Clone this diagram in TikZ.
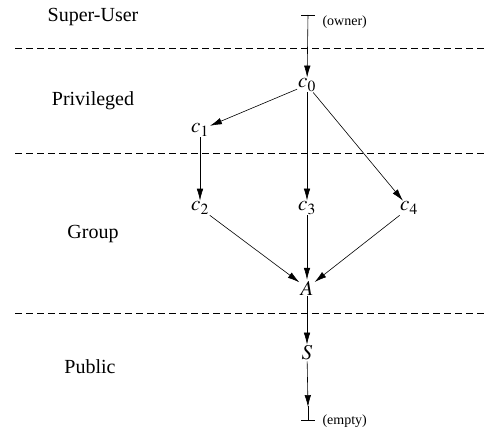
\documentclass[tikz,border=0pt]{standalone}
\usepackage{mathptmx}
\usepackage{fontspec}
\setmainfont{Liberation Serif}
\usetikzlibrary{arrows.meta,positioning}
\tikzset{
  flowln/.style={-{Latex[length=4.2mm,width=2.3mm]}, line width=0.6pt},
  layerln/.style={dash pattern=on 7pt off 4pt, line width=1pt},
  layername/.style={font=\fontsize{20}{24}\selectfont},
  perm/.style={inner sep=1pt, font=\fontsize{21}{24}\selectfont},
  tagtext/.style={font=\fontsize{14}{16}\selectfont, right=14pt},
}
\begin{document}
\begin{tikzpicture}[x=1pt,y=-1pt]
    \useasboundingbox (0,0) rectangle (492,428);
    % layer borders
    \draw[layerln] (15,49) -- (486,49);
    \draw[layerln] (15,153) -- (486,153);
    \draw[layerln] (15,313) -- (486,313);

    % layer names
    \node[layername] (lsuper) at (93,17) {Super-User};
    \node[layername] (lpriv) at (93,101) {Privileged};
    \node[layername] (lgroup) at (93,234) {Group};
    \node[layername] (lpub) at (90,367) {Public};

    % top and bottom
    \coordinate (top) at (308,15);
    \coordinate (bot) at (308,420);
    \draw[line width=0.7pt] ([xshift=-7pt]top) -- ([xshift=7pt]top);
    \draw[line width=0.7pt] ([xshift=-7pt]bot) -- ([xshift=7pt]bot);
    \node[tagtext, xshift=-3pt] (owner) at ([yshift=-7pt]top) {(owner)};
    \node[tagtext, xshift=-3pt] (empty) at ([yshift=-1pt]bot) {(empty)};

    % permissions
    \node[perm] (c0) at (307,85) {$c_0$};
    \node[perm] (c1) at (200,130) {$c_1$};
    \node[perm] (c2) at (200,208) {$c_2$};
    \node[perm] (c3) at (307,208) {$c_3$};
    \node[perm] (c4) at (409,208) {$c_4$};
    \node[perm] (A) at (307,288) {$A$};
    \node[perm] (S) at (307,353) {$S$};

    \draw[flowln] (top) -- (c0);
    \draw[flowln] (c0) -- (c1);
    \draw[flowln] (c0) -- (c3);
    \draw[flowln] (c0) -- (c4);
    \draw[flowln] (c1) -- (c2);
    \draw[flowln] (c2) -- (A);
    \draw[flowln] (c3) -- (A);
    \draw[flowln] (c4) -- (A);
    \draw[flowln] (A) -- (S);
    \draw[flowln] (S) -- ([yshift=13pt]bot);
    \draw[line width=0.6pt] ([yshift=14pt]bot) -- (bot);
  \end{tikzpicture}
\end{document}
